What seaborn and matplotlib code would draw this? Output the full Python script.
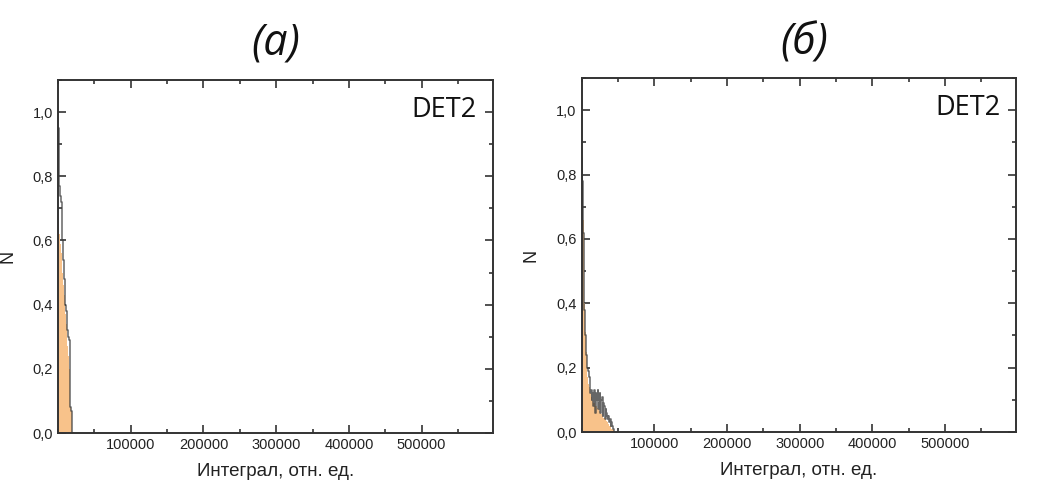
import numpy as np
import pandas as pd
import matplotlib
matplotlib.use("Agg")
import matplotlib.pyplot as plt
from matplotlib.ticker import MultipleLocator, FuncFormatter, FixedLocator
import seaborn as sns

# ---- data (bin width 1000, relative units) ----
bin_width = 1000
# panel (a)
a_line = [0.95, 0.86, 0.77, 0.74, 0.72, 0.66, 0.60, 0.54, 0.48, 0.41,
          0.40, 0.38, 0.35, 0.32, 0.30, 0.29, 0.28, 0.08, 0.07, 0.0]
a_fill = [0.66, 0.64, 0.62, 0.59, 0.56, 0.53, 0.50, 0.46, 0.43, 0.40,
          0.37, 0.34, 0.30, 0.27, 0.24, 0.20, 0.15, 0.08, 0.07, 0.0]
# panel (б)
b_line = [0.85, 0.78, 0.62, 0.48, 0.38, 0.30, 0.24, 0.20, 0.20, 0.19,
          0.17, 0.14, 0.12, 0.13, 0.10, 0.12, 0.08, 0.13, 0.11, 0.06,
          0.12, 0.10, 0.13, 0.07, 0.09, 0.12, 0.06, 0.10, 0.11, 0.05,
          0.09, 0.08, 0.04, 0.07, 0.06, 0.05, 0.04, 0.05, 0.03, 0.04,
          0.02, 0.03, 0.02, 0.01, 0.0]
b_fill = [0.82, 0.77, 0.66, 0.52, 0.40, 0.31, 0.25, 0.20, 0.17, 0.15,
          0.14, 0.13, 0.12, 0.11, 0.10, 0.095, 0.09, 0.09, 0.085, 0.08,
          0.08, 0.075, 0.07, 0.07, 0.065, 0.06, 0.06, 0.055, 0.05, 0.05,
          0.045, 0.045, 0.04, 0.04, 0.035, 0.03, 0.03, 0.025, 0.02, 0.02,
          0.015, 0.01, 0.01, 0.005, 0.0]

panel_titles = ["(a)", "(б)"]
label_text = "DET2"
x_label = "Интеграл, отн. ед."
y_label = "N"
x_ticks = [100000, 200000, 300000, 400000, 500000]

sns.set_theme(style="ticks")
plt.rcParams["font.family"] = ["Liberation Sans", "DejaVu Sans"]

fig = plt.figure(figsize=(10.63, 4.93), dpi=100)
ax_a = fig.add_axes([0.0546, 0.1217, 0.409, 0.716])
ax_b = fig.add_axes([0.5471, 0.1237, 0.409, 0.718])

fill_color = "#f8c28a"
line_color = "#404040"


def draw(ax, line_vals, fill_vals, title, title_x):
    n = len(line_vals)
    centers = np.arange(n) * bin_width + bin_width / 2
    df = pd.DataFrame({"x": centers, "line": line_vals, "fill": fill_vals})
    rng = (0, n * bin_width)
    sns.histplot(data=df, x="x", weights="fill", binwidth=bin_width, binrange=rng,
                 element="step", fill=True, color=fill_color, alpha=1.0,
                 linewidth=0, ax=ax)
    sns.histplot(data=df, x="x", weights="line", binwidth=bin_width, binrange=rng,
                 element="step", fill=False, color=line_color, alpha=0.8,
                 linewidth=1.1, ax=ax)
    ax.set_xlim(0, 598000)
    ax.set_ylim(0, 1.1)
    ax.xaxis.set_major_locator(FixedLocator(x_ticks))
    ax.xaxis.set_minor_locator(MultipleLocator(50000))
    ax.yaxis.set_major_locator(MultipleLocator(0.2))
    ax.yaxis.set_minor_locator(MultipleLocator(0.1))
    ax.yaxis.set_major_formatter(FuncFormatter(lambda v, p: f"{v:.1f}".replace(".", ",")))
    ax.xaxis.set_major_formatter(FuncFormatter(lambda v, p: f"{int(v)}"))
    ax.tick_params(which="both", direction="in", top=True, right=True,
                   colors="#333333", labelcolor="#222222", width=1.2)
    ax.tick_params(which="major", length=6, labelsize=10.5)
    ax.tick_params(which="minor", length=3)
    for s in ax.spines.values():
        s.set_visible(True)
        s.set_color("#333333")
        s.set_linewidth(1.4)
    ax.set_xlabel(x_label, fontsize=13.5, color="#222222", labelpad=8)
    ax.set_ylabel(y_label, fontsize=13, color="#222222", labelpad=12)
    ax.text(0.963, 0.955, label_text, transform=ax.transAxes, ha="right", va="top",
            fontsize=19.5, family=["Open Sans", "DejaVu Sans"], color="#111111")
    fig.text(title_x, 0.912, title, ha="center", va="center", fontsize=31,
             style="italic", family=["Open Sans", "DejaVu Sans"], color="#111111")


draw(ax_a, a_line, a_fill, panel_titles[0], 0.259)
draw(ax_b, b_line, b_fill, panel_titles[1], 0.757)

fig.savefig("out.png", dpi=100)
